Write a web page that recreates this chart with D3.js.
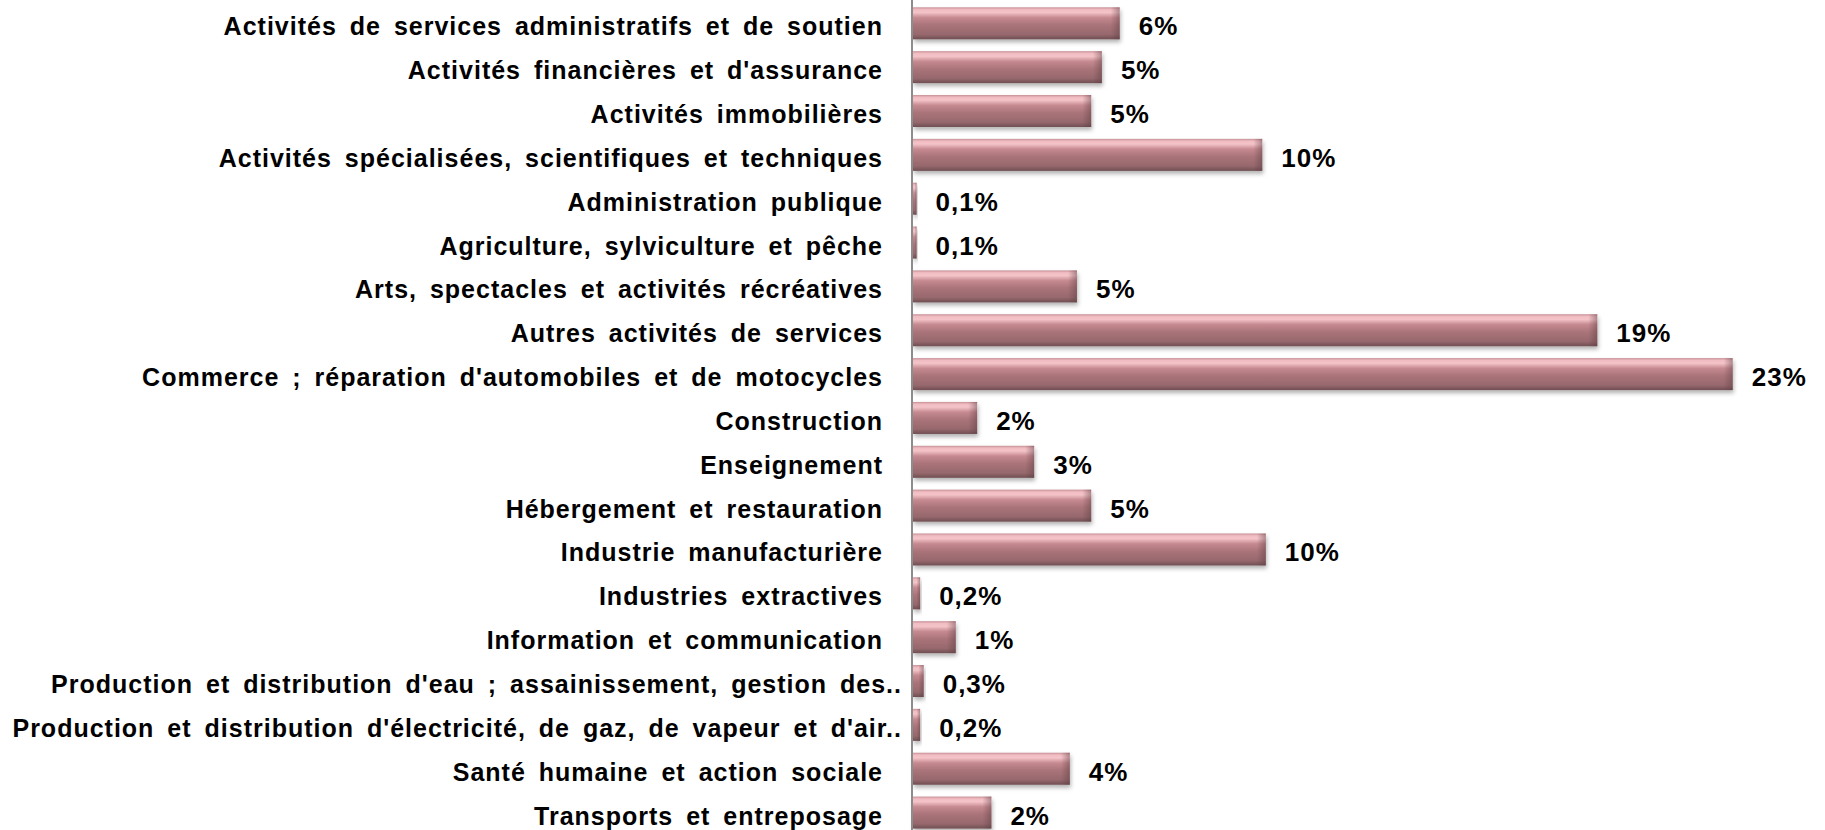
<!DOCTYPE html>
<html lang="fr">
<head>
    <meta charset="UTF-8">
    <title>Répartition par secteur d'activité</title>
    <script src="https://d3js.org/d3.v7.min.js"></script>
    <style>
        body {
            margin: 0;
            padding: 0;
            background-color: #ffffff;
            font-family: "Liberation Sans", Arial, sans-serif;
        }
        #chart {
            display: block;
        }
        .cat-label, .val-label {
            font-weight: bold;
            fill: #000;
            letter-spacing: 1px;
        }
        .cat-label {
            font-size: 25px;
            word-spacing: 5px;
        }
        .val-label {
            font-size: 26px;
        }
    </style>
</head>
<body>
    <svg id="chart" width="1825" height="830"></svg>

    <script>
        // Categories, top to bottom
        const categories = [
            "Activités de services administratifs et de soutien",
            "Activités financières et d'assurance",
            "Activités immobilières",
            "Activités spécialisées, scientifiques et techniques",
            "Administration publique",
            "Agriculture, sylviculture et pêche",
            "Arts, spectacles et activités récréatives",
            "Autres activités de services",
            "Commerce ; réparation d'automobiles et de motocycles",
            "Construction",
            "Enseignement",
            "Hébergement et restauration",
            "Industrie manufacturière",
            "Industries extractives",
            "Information et communication",
            "Production et distribution d'eau ; assainissement, gestion des..",
            "Production et distribution d'électricité, de gaz, de vapeur et d'air..",
            "Santé humaine et action sociale",
            "Transports et entreposage"
        ];

        // Share of each sector, in percent
        const values = [5.8, 5.3, 5.0, 9.8, 0.1, 0.1, 4.6, 19.2, 23.0, 1.8,
                        3.4, 5.0, 9.9, 0.2, 1.2, 0.3, 0.2, 4.4, 2.2];

        const data = categories.map((c, i) => ({ cat: c, value: values[i] }));

        const svg = d3.select("#chart");
        const axisX = 912;

        const x = d3.scaleLinear().domain([0, 25]).range([axisX + 1, 1804]);
        const y = d3.scaleBand()
            .domain(categories)
            .range([1.4, 834.5])
            .paddingInner(0.27)
            .paddingOuter(0.135);

        // percent format with french comma
        const fmt = v => v < 1
            ? d3.format(".1f")(v).replace(".", ",") + "%"
            : d3.format(".0f")(v) + "%";

        const defs = svg.append("defs");

        const grad = defs.append("linearGradient")
            .attr("id", "barGrad")
            .attr("x1", 0).attr("y1", 0).attr("x2", 0).attr("y2", 1);
        [
            [0, "#c68f96"],
            [0.07, "#f0bcc2"],
            [0.16, "#f4c4c9"],
            [0.32, "#c68a91"],
            [0.55, "#aa747a"],
            [0.85, "#96686d"],
            [1, "#6f4e52"]
        ].forEach(s => grad.append("stop").attr("offset", s[0]).attr("stop-color", s[1]));

        const endGrad = defs.append("linearGradient")
            .attr("id", "endGrad")
            .attr("x1", 0).attr("y1", 0).attr("x2", 1).attr("y2", 0);
        endGrad.append("stop").attr("offset", 0).attr("stop-color", "#5a3c40").attr("stop-opacity", 0);
        endGrad.append("stop").attr("offset", 1).attr("stop-color", "#5a3c40").attr("stop-opacity", 0.45);

        const shadow = defs.append("filter")
            .attr("id", "shadow")
            .attr("x", "-10%").attr("y", "-30%")
            .attr("width", "130%").attr("height", "170%");
        shadow.append("feDropShadow")
            .attr("dx", 1).attr("dy", 3)
            .attr("stdDeviation", 2)
            .attr("flood-color", "#000")
            .attr("flood-opacity", 0.3);

        // bars
        const bars = svg.append("g").selectAll("g.bar")
            .data(data)
            .join("g")
            .attr("class", "bar");

        bars.append("rect")
            .attr("x", x(0))
            .attr("y", d => y(d.cat))
            .attr("width", d => x(d.value) - x(0))
            .attr("height", y.bandwidth())
            .attr("fill", "url(#barGrad)")
            .attr("filter", "url(#shadow)");

        // bevel at the right end
        bars.append("rect")
            .attr("x", d => x(d.value) - Math.min(9, (x(d.value) - x(0)) / 2))
            .attr("y", d => y(d.cat))
            .attr("width", d => Math.min(9, (x(d.value) - x(0)) / 2))
            .attr("height", y.bandwidth())
            .attr("fill", "url(#endGrad)");

        // axis line
        svg.append("line")
            .attr("x1", axisX).attr("x2", axisX)
            .attr("y1", 0).attr("y2", 830)
            .attr("stroke", "#8c8c8c")
            .attr("stroke-width", 2);

        // category labels
        svg.append("g").selectAll("text")
            .data(data)
            .join("text")
            .attr("class", "cat-label")
            .attr("x", d => d.cat.endsWith("..") ? 902 : 883)
            .attr("y", d => y(d.cat) + y.bandwidth() / 2 + 12)
            .attr("text-anchor", "end")
            .text(d => d.cat);

        // value labels
        svg.append("g").selectAll("text")
            .data(data)
            .join("text")
            .attr("class", "val-label")
            .attr("x", d => x(d.value) + 19)
            .attr("y", d => y(d.cat) + y.bandwidth() / 2 + 12)
            .text(d => fmt(d.value));
    </script>
</body>
</html>
